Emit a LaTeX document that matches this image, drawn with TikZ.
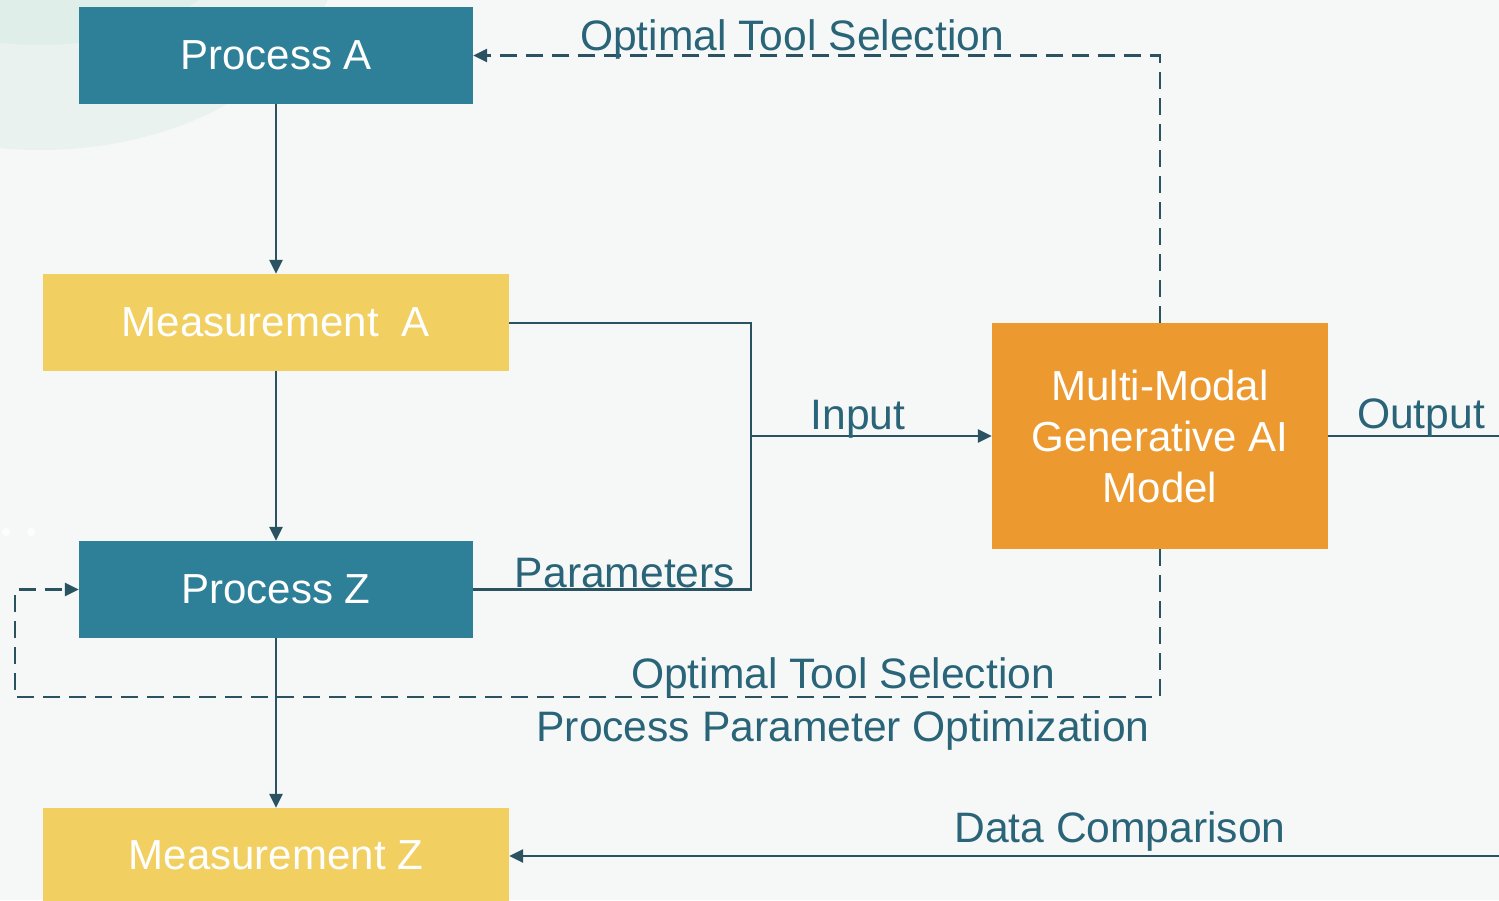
\documentclass[tikz,border=0pt]{standalone}
\usepackage{fontspec}
\setmainfont{Liberation Sans}
\usetikzlibrary{arrows.meta}
\definecolor{teal}{HTML}{2E7F98}
\definecolor{gold}{HTML}{F2CF61}
\definecolor{orng}{HTML}{EC9A30}
\definecolor{wire}{HTML}{2B5261}
\definecolor{lbl}{HTML}{2A6478}
\definecolor{bgbase}{HTML}{F6F8F8}
\definecolor{mint}{HTML}{D6EBE3}
\tikzset{
  box/.style={draw=none, inner sep=0pt, font=\fontsize{42}{51}\selectfont, text=white, align=center},
  procbox/.style={box, fill=teal, minimum width=394, minimum height=97},
  measbox/.style={box, fill=gold, minimum width=466, minimum height=97},
  aibox/.style={box, fill=orng, minimum width=336, minimum height=226},
  wireline/.style={draw=wire, line width=2.5pt},
  flow/.style={wireline, -{Triangle[length=14pt,width=13pt]}},
  feedback/.style={flow, dash pattern=on 17pt off 9pt},
  tag/.style={text=lbl, font=\fontsize{42.6}{48}\selectfont, inner sep=0pt}
}
\begin{document}
\begin{tikzpicture}[x=1pt, y=-1pt]
  % canvas
  \fill[bgbase] (0,0) rectangle (1499,900);
  \begin{scope}
    \clip (0,0) rectangle (1499,900);
    \fill[mint, opacity=0.4] (40,-60) ellipse (300 and 210);
    \fill[mint, opacity=0.5] (40,-70) ellipse (200 and 115);
    \fill[white, opacity=0.8] (6,532) circle (4);
    \fill[white, opacity=0.8] (31,532) circle (4);
  \end{scope}
  \useasboundingbox (0,0) rectangle (1499,900);

  % blocks
  \node[procbox] (pa) at (276,55.5) {Process A};
  \node[measbox] (ma) at (276,322.5) {Measurement\ \ A};
  \node[procbox] (pz) at (276,589.5) {Process Z};
  \node[measbox, minimum height=95] (mz) at (276,855.5) {Measurement Z};
  \node[aibox] (ai) at (1160,436) {Multi-Modal\\Generative AI\\Model};

  % junction and free ends
  \coordinate (join) at (751,436);
  \coordinate (outEnd) at (1499,436);
  \coordinate (cmpStart) at (1499,856);
  \coordinate (loopL) at (15,697);

  % main chain
  \draw[flow] (pa.south) -- (ma.north);
  \draw[flow] (ma.south) -- (pz.north);
  \draw[flow] (pz.south) -- (mz.north);

  % inputs into the model
  \draw[wireline] (ma.east |- 0,323) -| (join);
  \draw[wireline] (pz.east) -| (join);
  \draw[flow] (join) -- (ai.west);
  \draw[wireline] (ai.east) -- (outEnd);
  \draw[flow] (cmpStart) -- (mz.east |- cmpStart);

  % feedback loops
  \draw[feedback] (ai.north) |- (pa.east);
  \draw[feedback] (ai.south) |- (loopL) |- (pz.west);

  % labels
  \node[tag] (l1) at (792,39) {Optimal Tool Selection};
  \node[tag] (l2) at (858,419) {Input};
  \node[tag] (l3) at (625,573) {Parameters};
  \node[tag] (l4) at (1421,418) {Output};
  \node[tag] (l5) at (843,677) {Optimal Tool Selection};
  \node[tag] (l6) at (843,730) {Process Parameter Optimization};
  \node[tag] (l7) at (1120,831) {Data Comparison};
\end{tikzpicture}
\end{document}
